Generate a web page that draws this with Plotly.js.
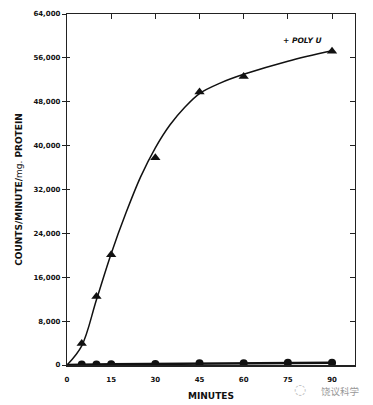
<!DOCTYPE html>
<html>
<head>
<meta charset="utf-8">
<script src="https://cdn.plot.ly/plotly-3.0.1.min.js"></script>
<style>html,body{margin:0;padding:0;background:#fff;}#chart{width:373px;height:405px;}</style>
</head>
<body>
<div id="chart"></div>
<script>
// Data
var polyU_minutes = [5, 10, 15, 30, 45, 60, 90];
var polyU_counts  = [3900, 12500, 20100, 37800, 49800, 52600, 57200];

var curve_minutes = [0, 5, 10, 15, 20, 25, 30, 35, 40, 45, 52, 60, 75, 90];
var curve_counts  = [0, 3500, 11900, 20300, 27700, 34300, 39600, 43800, 47000, 49500, 51400, 53000, 55400, 57300];

var control_minutes = [5, 10, 15, 30, 45, 60, 75, 90];
var control_counts  = [100, 100, 150, 200, 300, 300, 400, 400];

var xTickVals = [0, 15, 30, 45, 60, 75, 90];
var xTickText = ["0", "15", "30", "45", "60", "75", "90"];
var yTickVals = [0, 8000, 16000, 24000, 32000, 40000, 48000, 56000, 64000];
var yTickText = ["0", "8,000", "16,000", "24,000", "32,000", "40,000", "48,000", "56,000", "64,000"];

var xRange = [0, 97.8];
var yRange = [0, 64000];

var traces = [
  {x: curve_minutes, y: curve_counts, mode: 'lines', line: {color: '#111', width: 1.5, shape: 'spline', smoothing: 1}},
  {x: polyU_minutes, y: polyU_counts, mode: 'markers', marker: {symbol: 'triangle-up', size: 9, color: '#111'}},
  {x: [0].concat(control_minutes), y: [0].concat(control_counts), mode: 'lines', line: {color: '#111', width: 2.5}},
  {x: control_minutes, y: control_counts, mode: 'markers', marker: {symbol: 'circle', size: 8, color: '#111'}},
  {x: [0], y: [0], xaxis: 'x2', yaxis: 'y2', mode: 'markers', marker: {opacity: 0}},
  {x: [0], y: [0], xaxis: 'x', yaxis: 'y3', mode: 'markers', marker: {opacity: 0}}
];

var FONT = 'DejaVu Sans, Verdana, sans-serif';
var tf = {family: FONT, size: 7, color: '#111', weight: 'bold'};

var layout = {
  width: 373, height: 405,
  margin: {l: 67, r: 18, t: 14, b: 40},
  paper_bgcolor: '#fff', plot_bgcolor: '#fff',
  showlegend: false,
  xaxis: {
    range: xRange, tickvals: xTickVals, ticktext: xTickText,
    showgrid: false, zeroline: false, showline: true, linecolor: '#222', linewidth: 1.5,
    ticks: 'outside', ticklen: 7, tickcolor: 'rgba(0,0,0,0)', tickfont: tf,
    title: {text: 'MINUTES', font: {family: FONT, size: 9, color: '#111', weight: 'bold'}, standoff: 10}
  },
  yaxis: {
    range: yRange, tickvals: yTickVals, ticktext: yTickText,
    showgrid: false, zeroline: false, showline: true, linecolor: '#222', linewidth: 1.2,
    ticks: 'outside', ticklen: 4, tickcolor: '#222', tickfont: tf,
    title: {text: 'COUNTS/MINUTE/<span style="font-weight:normal">mg.</span> PROTEIN', font: {family: FONT, size: 9, color: '#111', weight: 'bold'}, standoff: 9}
  },
  yaxis3: {
    overlaying: 'y', side: 'left', range: yRange, tickvals: yTickVals.slice(1), showticklabels: false,
    showgrid: false, zeroline: false, showline: false,
    ticks: 'inside', ticklen: 3, tickcolor: '#222'
  },
  xaxis2: {
    overlaying: 'x', side: 'top', range: xRange, tickvals: [15, 30, 45, 60, 75, 90], showticklabels: false,
    showgrid: false, zeroline: false, showline: true, linecolor: '#222', linewidth: 1.2,
    ticks: 'inside', ticklen: 5, tickcolor: '#222'
  },
  yaxis2: {
    overlaying: 'y', side: 'right', range: yRange, tickvals: yTickVals, showticklabels: false,
    showgrid: false, zeroline: false, showline: true, linecolor: '#222', linewidth: 1.2,
    ticks: 'inside', ticklen: 5, tickcolor: '#222'
  },
  annotations: [
    {x: 80, y: 59100, xref: 'x', yref: 'y', text: '<i>+ POLY U</i>', showarrow: false,
     font: {family: FONT, size: 7.5, color: '#111', weight: 'bold'}},
    {x: 1.0225, y: -0.0735, xref: 'paper', yref: 'paper', xanchor: 'right', yanchor: 'middle', text: '饶议科学', showarrow: false,
     font: {family: 'Noto Sans CJK SC, sans-serif', size: 9.5, color: '#999'}},
    {x: 0.837, y: -0.068, xref: 'paper', yref: 'paper', yanchor: 'middle', text: '◌', showarrow: false,
     font: {family: 'DejaVu Sans, sans-serif', size: 14, color: '#bbb'}}
  ]
};

Plotly.newPlot('chart', traces, layout, {staticPlot: true, displayModeBar: false});
</script>
</body>
</html>
